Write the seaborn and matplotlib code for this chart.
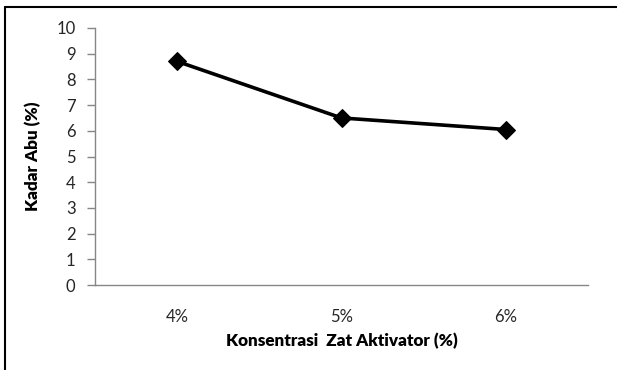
import matplotlib
matplotlib.use("Agg")
import matplotlib.pyplot as plt
from matplotlib.lines import Line2D
import seaborn as sns
import pandas as pd

konsentrasi = ["4%", "5%", "6%"]
kadar_abu = [8.7, 6.5, 6.05]
y_ticks = [0, 1, 2, 3, 4, 5, 6, 7, 8, 9, 10]

sns.set_theme(style="white")
plt.rcParams["font.family"] = ["Lato", "DejaVu Sans"]

df = pd.DataFrame({"Konsentrasi": konsentrasi, "Kadar": kadar_abu})

W, H, DPI = 617, 370, 100
fig = plt.figure(figsize=(W / DPI, H / DPI), dpi=DPI)
ax = fig.add_axes([95 / W, 1 - 285 / H, (588 - 95) / W, (285 - 28) / H])

sns.lineplot(data=df, x="Konsentrasi", y="Kadar", ax=ax, color="black",
             linewidth=2.6, marker="D", markersize=9, markeredgecolor="black",
             sort=False)

ax.set_xlim(-0.5, 2.5)
ax.set_ylim(0, 10)
ax.set_yticks(y_ticks)
ax.set_yticklabels([str(t) for t in y_ticks])

for side in ["top", "right"]:
    ax.spines[side].set_visible(False)
for side in ["left", "bottom"]:
    ax.spines[side].set_color("#868686")
    ax.spines[side].set_linewidth(1.0)

ax.tick_params(axis="y", which="major", left=True, length=6, width=1.0,
               color="#868686", labelsize=12, pad=8, labelcolor="#262626")
ax.tick_params(axis="x", which="major", bottom=False, labelsize=12,
               pad=11, labelcolor="#262626")

ax.set_xlabel("Konsentrasi  Zat Aktivator (%)", fontsize=12.3,
              fontweight="heavy", color="black", labelpad=6)
ax.set_ylabel("Kadar Abu (%)", fontsize=12.3, fontweight="heavy",
              color="black", labelpad=11)

# frame lines along the top and left edges of the chart area
fig.lines.append(Line2D([4.5 / W, 4.5 / W], [0, 1 - 6.5 / H],
                        transform=fig.transFigure, color="black", linewidth=1.5))
fig.lines.append(Line2D([4.5 / W, 1], [1 - 6.5 / H, 1 - 6.5 / H],
                        transform=fig.transFigure, color="black", linewidth=1.5))

fig.savefig("out.png", dpi=DPI)
